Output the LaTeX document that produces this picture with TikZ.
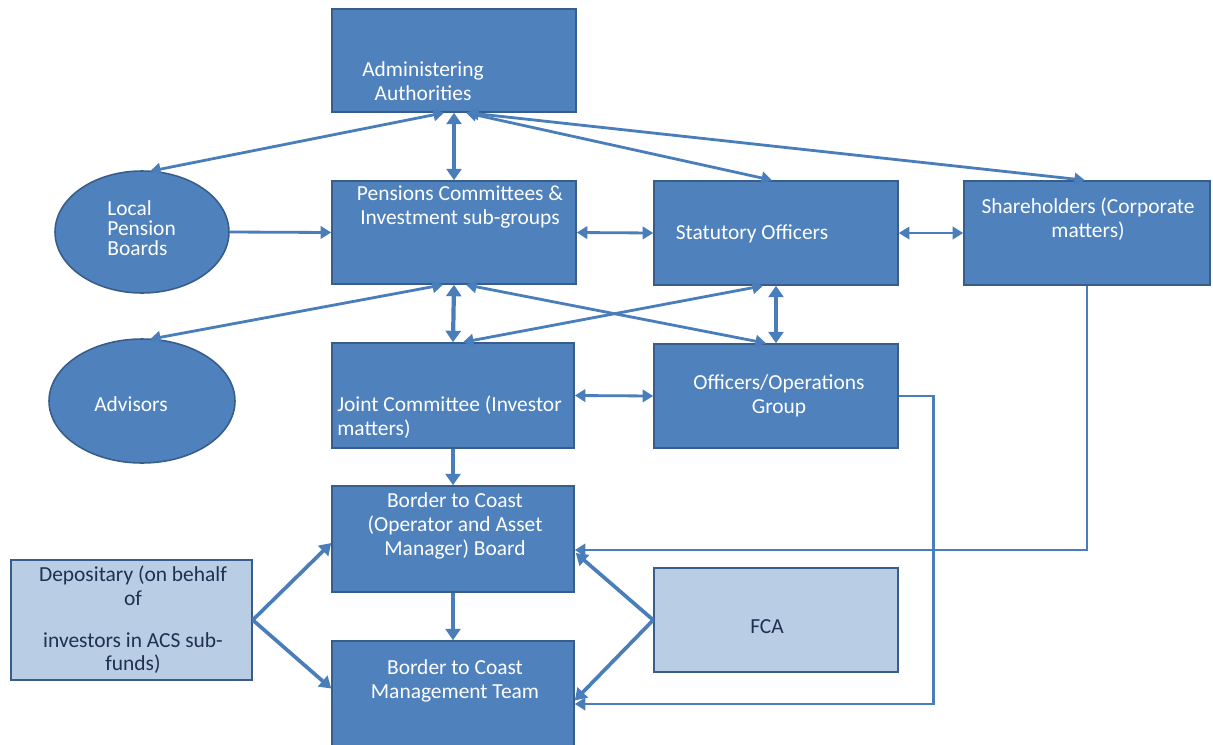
\documentclass[tikz,border=0pt]{standalone}
\usepackage{fontspec}
\setmainfont{Carlito}
\usetikzlibrary{arrows.meta,calc,shapes.geometric}
\definecolor{boxfill}{HTML}{4F81BD}
\definecolor{boxline}{HTML}{385D8A}
\definecolor{lightfill}{HTML}{B9CDE5}
\definecolor{navytext}{HTML}{1F3050}
\definecolor{connc}{HTML}{4A7EBB}
\tikzset{
  darkbox/.style={draw=boxline, fill=boxfill, line width=0.9pt, inner sep=0pt, rectangle},
  lightbox/.style={draw=boxline, fill=lightfill, line width=0.9pt, inner sep=0pt, rectangle},
  darkoval/.style={draw=boxline, fill=boxfill, line width=0.9pt, inner sep=0pt, ellipse},
  wtext/.style={text=white, font=\fontsize{12.2}{13.6}\selectfont, inner sep=0pt, align=center},
  ntext/.style={text=navytext, font=\fontsize{12.2}{13.6}\selectfont, inner sep=0pt, align=center},
  thinconn/.style={draw=connc, line width=1.6pt, >={Triangle[length=6pt,width=7pt]}},
  thickconn/.style={draw=connc, line width=2.4pt, >={Triangle[length=6.5pt,width=8.5pt]}},
  medconn/.style={draw=connc, line width=2.1pt, >={Triangle[length=6.5pt,width=8pt]}},
}
\begin{document}
\begin{tikzpicture}[x=0.02cm,y=-0.02cm]
\clip (0,0) rectangle (1213,744);
\fill[white] (0,0) rectangle (1213,744);
% boxes
\node[darkbox, minimum width=4.88cm, minimum height=2.06cm] (admin) at (454,60.5) {};
\node[darkbox, minimum width=4.88cm, minimum height=2.06cm] (pens) at (454,232.5) {};
\node[darkbox, minimum width=4.88cm, minimum height=2.08cm] (stat) at (776,233) {};
\node[darkbox, minimum width=4.92cm, minimum height=2.08cm] (share) at (1087,233) {};
\node[darkbox, minimum width=4.84cm, minimum height=2.10cm] (joint) at (453,395.5) {};
\node[darkbox, minimum width=4.88cm, minimum height=2.08cm] (offs) at (776,396) {};
\node[darkbox, minimum width=4.84cm, minimum height=2.12cm] (board) at (453,539) {};
\node[darkbox, minimum width=4.84cm, minimum height=2.38cm] (mgmt) at (453,700.5) {};
\node[lightbox, minimum width=4.82cm, minimum height=2.40cm] (dep) at (131.5,620) {};
\node[lightbox, minimum width=4.88cm, minimum height=2.08cm] (fca) at (776,620) {};
\node[darkoval, minimum width=3.48cm, minimum height=2.44cm] (lpb) at (142,232) {};
\node[darkoval, minimum width=3.72cm, minimum height=2.48cm] (adv) at (142,401) {};
% texts
\node[wtext] (adminT) at (423,81) {Administering\\Authorities};
\node[wtext] (pensT) at (460,207) {Pensions Committees \&\\Investment sub-groups};
\node[wtext] (statT) at (752,234) {Statutory Officers};
\node[wtext] (shareT) at (1088,219) {Shareholders (Corporate\\matters)};
\node[wtext, align=left, font=\fontsize{12.2}{11.4}\selectfont, anchor=west] (lpbT) at (107,228) {Local\\Pension\\Boards};
\node[wtext] (advT) at (131,404) {Advisors};
\node[wtext, align=left, anchor=west] (jointT) at (337,417) {Joint Committee (Investor\\matters)};
\node[wtext] (offsT) at (779,396) {Officers/Operations\\Group};
\node[wtext] (boardT) at (455,526) {Border to Coast\\(Operator and Asset\\Manager) Board};
\node[wtext] (mgmtT) at (455,681) {Border to Coast\\Management Team};
\node[ntext] (depT) at (133,620) {Depositary (on behalf\\of\\[10pt]investors in ACS sub-\\funds)};
\node[ntext] (fcaT) at (767,627) {FCA};
% connectors
\draw[thinconn,<->] ($(admin.south)+(-10,0)$) -- ($(lpb.north)+(8,1)$);
\draw[thickconn,<->] (admin.south) -- (pens.north);
\draw[thinconn,<->] ($(admin.south)+(12,0)$) -- ($(stat.north)+(-4,0)$);
\draw[thinconn,<->] ($(admin.south)+(14,0)$) -- ($(share.north)+(-2,0)$);
\draw[thinconn,->] (lpb.east) -- (pens.west);
\draw[thinconn,<->] (pens.east) -- (stat.west);
\draw[thinconn,<->] (stat.east) -- (share.west);
\draw[thinconn,<->] ($(pens.south)+(-11,0)$) -- ($(adv.north)+(8,1)$);
\draw[thickconn,<->] (pens.south) -- (joint.north);
\draw[thinconn,<->] ($(pens.south)+(12,0)$) -- ($(offs.north)+(-10,0)$);
\draw[thinconn,<->] ($(stat.south)+(-13,0)$) -- ($(joint.north)+(10,0)$);
\draw[thickconn,<->] (stat.south) -- (offs.north);
\draw[thinconn,<->] (joint.east) -- (offs.west);
\draw[thickconn,->] (joint.south) -- (board.north);
\draw[thickconn,->] (board.south) -- (mgmt.north);
\draw[medconn,->] (dep.east) -- ($(board.west)+(0,4)$);
\draw[medconn,->] (dep.east) -- ($(mgmt.west)+(0,-12)$);
\draw[medconn,->] (fca.west) -- ($(board.east)+(1,14)$);
\draw[medconn,->] (fca.west) -- (mgmt.east);
\draw[thinconn,->] (share.south) |- ($(board.east)+(0,11)$);
\draw[thinconn,->] (offs.east) -- ++(35,0) |- ($(mgmt.east)+(0,3.5)$);
\end{tikzpicture}
\end{document}
